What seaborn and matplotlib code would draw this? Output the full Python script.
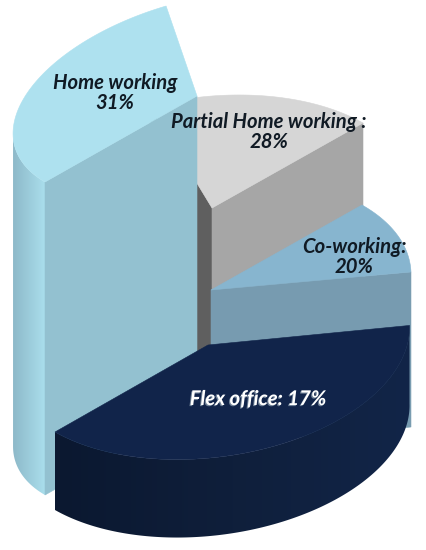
import numpy as np
import matplotlib
matplotlib.use("Agg")
import matplotlib.pyplot as plt
import matplotlib.patheffects as pe
from matplotlib.colors import ListedColormap
from matplotlib.patches import Polygon
import seaborn as sns

# chart values
names = ["Home working", "Partial Home working :", "Co-working:", "Flex office:"]
shares = [31, 28, 20, 17]
separators = ["\n", "\n", "\n", " "]

# look of each slice: top, cut face
top_colors = ["#aee1ef", "#d6d6d6", "#87b5cf", "#11244a"]
face_colors = ["#93c1d0", "#a6a6a6", "#779bb0", "#11244a"]
inner_color = "#5f5f5f"
label_colors = ["#101a24", "#101a24", "#101a24", "#ffffff"]
label_xy = [(115, 93), (269, 132), (354, 257), (258, 399)]

# projected geometry of the pie (pixel space of the page)
centers = [(197, 96), (212, 208), (211, 290), (208, 345)]
depths = [313, 170, 155, 78]
sweeps = [(0, 114.6), (293, 360), (0, 39.6), (39.6, 180)]
axis_u = [(-152, 86), (151, -85), (151, -85), (153, -87)]
axis_v = [(-103.6, -59.6), (131.2, 74.5), (131.2, 74.5), (131.2, 74.5)]

sns.set_theme(style="white")
plt.rcParams["font.family"] = ["Lato", "DejaVu Sans"]
fig, ax = plt.subplots(figsize=(4.26, 5.5), dpi=100)
fig.subplots_adjust(0, 0, 1, 1)
ax.axis("off")


def rim(i, t0, t1, n=120):
    t = np.radians(np.linspace(t0, t1, n))
    c, u, v = map(np.array, (centers[i], axis_u[i], axis_v[i]))
    return np.column_stack([c[0] + u[0] * np.cos(t) + v[0] * np.sin(t),
                            c[1] + u[1] * np.cos(t) + v[1] * np.sin(t)])


def poly(pts, color, z):
    pts = np.asarray(pts)
    ax.fill(pts[:, 0], pts[:, 1], facecolor=color, edgecolor=color, lw=0.4, zorder=z)


def cut_face(i, rim_pt, z):
    c = np.array(centers[i], float)
    d = np.array([0, depths[i]])
    poly([c, rim_pt, rim_pt + d, c + d], face_colors[i], z)


def wall(i, t0, t1, colors, z):
    r = rim(i, t0, t1, 200)
    d = np.array([0, depths[i]])
    outline = np.vstack([r, r[::-1] + d])
    xmin, xmax = r[:, 0].min(), r[:, 0].max()
    ymin, ymax = outline[:, 1].min(), outline[:, 1].max()
    cmap = ListedColormap(sns.blend_palette(colors, 256))
    img = ax.imshow(np.linspace(0, 1, 256)[None, :], cmap=cmap, aspect="auto",
                    extent=(xmin, xmax, ymax, ymin), zorder=z, interpolation="bilinear")
    clip = Polygon(outline, closed=True, transform=ax.transData, facecolor="none", edgecolor="none")
    ax.add_patch(clip)
    img.set_clip_path(clip)


# Partial home working (back)
i = 1
r = rim(i, *sweeps[i])
c = np.array(centers[i], float)
poly([r[0], c, c + [0, depths[i]], r[0] + [0, depths[i]]], inner_color, 1)
cut_face(i, r[-1], 1.5)
poly(np.vstack([[c], r]), top_colors[i], 2)

# Co-working
i = 2
r = rim(i, *sweeps[i])
c = np.array(centers[i], float)
cut_face(i, r[-1], 3)
poly(np.vstack([[c], r]), top_colors[i], 4)

# Home working
i = 0
r = rim(i, *sweeps[i])
c = np.array(centers[i], float)
wall(i, 0, 34.3, ["#8db9c9", "#aadeec"], 5)
cut_face(i, r[0], 6)
poly(np.vstack([[c], r]), top_colors[i], 7)

# Flex office
i = 3
r = rim(i, *sweeps[i])
c = np.array(centers[i], float)
wall(i, sweeps[i][0], sweeps[i][1], ["#0b1830", "#0f1f3b", "#122548"], 8)
poly(np.vstack([[c], r]), top_colors[i], 9)

for name, share, sep, col, (x, y) in zip(names, shares, separators, label_colors, label_xy):
    t = ax.text(x, y, f"{name}{sep}{share}%", ha="center", va="center", color=col,
                fontsize=14.6, fontstyle="italic", fontweight="bold",
                linespacing=1.05, zorder=20)
    if col == "#ffffff":
        t.set_path_effects([pe.withSimplePatchShadow(offset=(-0.8, -0.8), shadow_rgbFace="#8899aa", alpha=0.8)])

ax.set_xlim(0, 426)
ax.set_ylim(550, 0)
fig.savefig("out.png", dpi=100)
